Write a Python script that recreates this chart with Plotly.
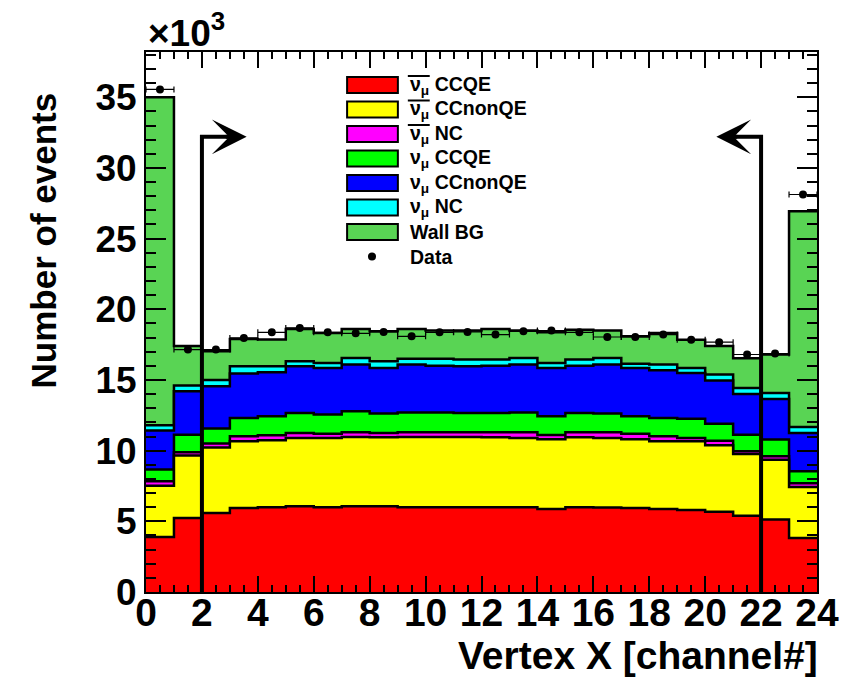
import numpy as np
import plotly.graph_objects as go

# ---- binning: reconstructed vertex X in scintillator channels ----
bin_edges = np.arange(0, 25)          # 24 bins, width 1
bin_centers = bin_edges[:-1] + 0.5

# ---- MC components (events per bin, in units of 10^3), stacked bottom -> top ----
numubar_ccqe = [3.89, 5.24, 5.59, 5.94, 5.99, 6.06, 6.00, 6.06, 6.06, 6.00, 6.00, 6.00,
                6.00, 6.00, 5.87, 6.00, 5.97, 5.94, 5.87, 5.80, 5.68, 5.40, 5.12, 3.82]
numubar_ccnonqe = [3.63, 4.41, 4.64, 4.72, 4.74, 4.84, 4.90, 4.91, 4.89, 4.97, 4.97, 4.97,
                   4.95, 4.90, 4.93, 4.95, 4.93, 4.86, 4.79, 4.86, 4.70, 4.36, 4.24, 3.61]
numubar_nc = [0.31, 0.23, 0.27, 0.35, 0.35, 0.35, 0.30, 0.33, 0.30, 0.33, 0.33, 0.33,
              0.35, 0.40, 0.30, 0.35, 0.40, 0.40, 0.35, 0.24, 0.32, 0.19, 0.24, 0.27]
numu_ccqe = [0.83, 1.25, 1.06, 1.30, 1.35, 1.42, 1.35, 1.48, 1.37, 1.40, 1.40, 1.37,
             1.37, 1.40, 1.33, 1.37, 1.32, 1.23, 1.30, 1.36, 1.21, 1.18, 1.18, 0.84]
numu_ccnonqe = [2.76, 3.07, 2.99, 3.14, 3.12, 3.30, 3.30, 3.31, 3.23, 3.39, 3.30, 3.30,
                3.33, 3.39, 3.42, 3.33, 3.47, 3.42, 3.37, 3.24, 3.06, 2.88, 2.88, 2.71]
numu_nc = [0.37, 0.40, 0.45, 0.52, 0.42, 0.35, 0.35, 0.47, 0.47, 0.41, 0.50, 0.47,
           0.44, 0.47, 0.35, 0.44, 0.47, 0.30, 0.41, 0.35, 0.42, 0.42, 0.42, 0.43]
wall_bg = [23.21, 2.80, 2.03, 1.93, 1.89, 2.29, 2.13, 2.05, 2.12, 2.11, 2.00, 2.06,
           2.17, 1.94, 2.17, 2.11, 1.94, 1.94, 2.24, 1.99, 2.01, 2.10, 2.72, 15.26]

# ---- observed data (x10^3) ----
data_counts = [35.55, 17.15, 17.15, 17.97, 18.37, 18.68, 18.37, 18.30, 18.40, 18.09, 18.37, 18.40,
               18.21, 18.44, 18.50, 18.37, 18.04, 18.04, 18.21, 17.84, 17.67, 16.80, 16.87, 28.12]

# ---- legend / style definitions ----
components = [numubar_ccqe, numubar_ccnonqe, numubar_nc, numu_ccqe, numu_ccnonqe, numu_nc, wall_bg]
comp_names = ["CCQE", "CCnonQE", "NC", "CCQE", "CCnonQE", "NC", "Wall BG"]
comp_antinu = [True, True, True, False, False, False, None]
comp_colors = ["#FF0000", "#FFFF00", "#FF00FF", "#00FF00", "#0000FF", "#00FFFF", "#59D454"]

# fiducial cut positions (channel #) and arrow geometry
cut_low, cut_high = 2, 22
arrow_level = 32.2
arrow_len = 1.6

FONT = "Liberation Sans, Arial, Helvetica, sans-serif"
W, H = 851, 680
ML, MR, MT, MB = 146, 31, 52, 88
PW, PH = W - ML - MR, H - MT - MB


def px(x):
    return (x - ML) / PW


def py(y):
    return (H - MB - y) / PH


fig = go.Figure()

# cumulative stack, drawn from the top layer downwards so each fill covers the rest
cum = np.cumsum(np.array(components), axis=0)
for i in range(len(components) - 1, -1, -1):
    top = cum[i]
    fig.add_trace(go.Scatter(
        x=bin_edges, y=np.append(top, top[-1]),
        mode="lines", line=dict(shape="hv", color="black", width=2.5),
        fill="tozeroy", fillcolor=comp_colors[i],
        hoverinfo="skip", showlegend=False))

fig.add_trace(go.Scatter(
    x=bin_centers, y=data_counts, mode="markers",
    marker=dict(color="black", size=8),
    error_x=dict(type="constant", value=0.5, width=3, thickness=1.2, color="black"),
    showlegend=False))

shapes = []
annotations = []

# cut arrows
for cut, direction in ((cut_low, 1), (cut_high, -1)):
    tip = cut + direction * arrow_len
    shapes.append(dict(type="path", xref="x", yref="y",
                       path=f"M {cut},0 L {cut},{arrow_level} L {cut + direction * (arrow_len - 0.6)},{arrow_level}",
                       line=dict(color="black", width=4)))
    annotations.append(dict(x=tip, y=arrow_level, xref="x", yref="y",
                            ax=cut + direction * (arrow_len - 0.8), ay=arrow_level,
                            axref="x", ayref="y", text="", showarrow=True,
                            arrowhead=3, arrowsize=1.45, arrowwidth=4, arrowcolor="black"))

# legend (drawn by hand, ROOT TLegend style)
row0, drow = 85, 24.5
box_x0, box_x1, text_x = 348, 399, 409
LEG_SIZE = 19.5
for i, name in enumerate(comp_names):
    yc = row0 + i * drow
    shapes.append(dict(type="rect", xref="paper", yref="paper",
                       x0=px(box_x0), x1=px(box_x1), y0=py(yc + 8), y1=py(yc - 8),
                       fillcolor=comp_colors[i], line=dict(color="black", width=2)))
    if comp_antinu[i] is None:
        label = name
    else:
        label = "ν<sub>μ</sub> " + name
    annotations.append(dict(x=px(text_x), y=py(yc), xref="paper", yref="paper",
                            xanchor="left", yanchor="middle", showarrow=False, text=label,
                            font=dict(family=FONT, size=LEG_SIZE, color="black", weight="bold")))
    if comp_antinu[i]:
        shapes.append(dict(type="line", xref="paper", yref="paper",
                           x0=px(text_x), x1=px(text_x + 22), y0=py(yc - 9), y1=py(yc - 9),
                           line=dict(color="black", width=2)))
yc = row0 + len(comp_names) * drow
shapes.append(dict(type="circle", xref="paper", yref="paper",
                   xsizemode="pixel", ysizemode="pixel",
                   xanchor=px(373), yanchor=py(yc), x0=-4, x1=4, y0=-4, y1=4,
                   fillcolor="black", line=dict(color="black", width=0)))
annotations.append(dict(x=px(text_x), y=py(yc), xref="paper", yref="paper",
                        xanchor="left", yanchor="middle", showarrow=False, text="Data",
                        font=dict(family=FONT, size=LEG_SIZE, color="black", weight="bold")))

# axis titles and exponent
annotations.append(dict(x=px(823), y=py(655), xref="paper", yref="paper", xanchor="right",
                        yanchor="middle", showarrow=False, text="Vertex X [channel#]",
                        font=dict(family=FONT, size=39, color="black", weight="bold")))
annotations.append(dict(x=px(44), y=py(240), xref="paper", yref="paper", xanchor="center",
                        yanchor="middle", showarrow=False, text="Number of events", textangle=-90,
                        font=dict(family=FONT, size=35, color="black", weight="bold")))
annotations.append(dict(x=0, y=1, xref="paper", yref="paper", xanchor="left",
                        yanchor="bottom", yshift=-4, showarrow=False, text="×10<sup>3</sup>",
                        font=dict(family=FONT, size=37, color="black", weight="bold")))

axis_common = dict(showline=True, linecolor="black", linewidth=2, mirror="allticks",
                   ticks="inside", tickcolor="black", tickwidth=1.5,
                   showgrid=False, zeroline=False, layer="above traces")

fig.update_layout(
    width=W, height=H,
    margin=dict(l=ML, r=MR, t=MT, b=MB, pad=0),
    paper_bgcolor="white", plot_bgcolor="white",
    showlegend=False,
    xaxis=dict(range=[0, 24], tickmode="linear", tick0=0, dtick=2, ticklen=16,
               ticklabelstandoff=-15, tickangle=0,
               tickfont=dict(family=FONT, size=39, color="black", weight="bold"),
               minor=dict(dtick=0.5, ticklen=7, ticks="inside", tickcolor="black", tickwidth=1.5),
               **axis_common),
    yaxis=dict(range=[0, 38.2], tickmode="linear", tick0=0, dtick=5, ticklen=20,
               tickfont=dict(family=FONT, size=37, color="black", weight="bold"),
               minor=dict(dtick=1, ticklen=10, ticks="inside", tickcolor="black", tickwidth=1.5),
               **axis_common),
    shapes=shapes,
    annotations=annotations,
)

fig.write_html("out.html")
